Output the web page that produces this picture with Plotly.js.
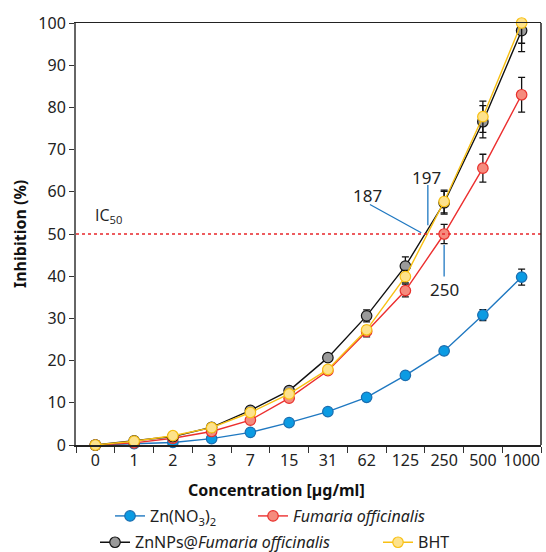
<!DOCTYPE html>
<html>
<head>
<meta charset="utf-8">
<script src="https://cdn.plot.ly/plotly-3.0.1.min.js"></script>
<style>html,body{margin:0;padding:0;background:#fff;}#chart{width:546px;height:552px;}</style>
</head>
<body>
<div id="chart"></div>
<script>
const categories = ["0","1","2","3","7","15","31","62","125","250","500","1000"];
const znNO3 = [0, 0.3, 0.6, 1.5, 3.0, 5.3, 7.9, 11.3, 16.5, 22.3, 30.8, 39.8];
const znNO3Err = [0, 0.1, 0.2, 0.2, 0.3, 0.4, 0.5, 0.5, 0.7, 0.9, 1.3, 1.9];
const fumaria = [0, 0.5, 1.6, 3.2, 5.9, 11.1, 17.6, 26.9, 36.6, 50.0, 65.6, 83.0];
const fumariaErr = [0, 0.1, 0.2, 0.3, 0.4, 0.6, 0.8, 1.3, 1.5, 2.3, 3.3, 4.1];
const znnps = [0, 1.0, 2.0, 4.2, 8.2, 12.9, 20.7, 30.6, 42.4, 57.4, 76.6, 98.2];
const znnpsErr = [0, 0.1, 0.2, 0.3, 0.4, 0.6, 0.8, 1.4, 2.2, 2.7, 3.8, 5.0];
const bht = [0, 0.9, 2.2, 4.1, 7.7, 12.1, 17.9, 27.3, 39.9, 57.7, 77.8, 100];
const bhtErr = [0, 0.1, 0.2, 0.3, 0.4, 0.5, 0.6, 1.0, 1.5, 2.7, 3.7, 4.8];
const seriesNames = ["Zn(NO<sub>3</sub>)<sub>2</sub>", "<i>Fumaria officinalis</i>", "ZnNPs@<i>Fumaria officinalis</i>", "BHT"];
const ic50Level = 50;
const ic50Labels = ["187", "197", "250"];

const FONT = "Noto Sans";
function errObj(arr){ return {type:'data', array:arr, visible:true, color:'#111', thickness:1.3, width:3.5}; }
function tr(y, err, name, lineColor, fill, edge, legend, lw){
  const t = {x:categories, y:y, name:name, type:'scatter', mode:'lines+markers', cliponaxis:false,
    line:{color:lineColor, width:1.4},
    marker:{size:10.5, color:fill, line:{color:edge, width:1.2}},
    error_y:errObj(err), legend:legend};
  if (lw) t.legendwidth = lw;
  return t;
}
const data = [
  tr(znNO3, znNO3Err, seriesNames[0], '#1f78c1', '#0b9be3', '#1a6eb0', 'legend', 98),
  tr(fumaria, fumariaErr, seriesNames[1], '#ec2f2f', '#f58b7d', '#e8312c', 'legend'),
  tr(znnps, znnpsErr, seriesNames[2], '#111111', '#9a9a9a', '#111111', 'legend2', 238),
  tr(bht, bhtErr, seriesNames[3], '#f8c014', '#fde28c', '#f8c014', 'legend2')
];
const lblColor = '#1f78c1';
const legFont = {family:FONT, size:16, color:'#222'};
const layout = {
  width:546, height:552,
  margin:{l:76, r:5, t:23, b:107},
  paper_bgcolor:'#fff', plot_bgcolor:'#fff',
  font:{family:FONT, size:16, color:'#222'},
  showlegend:true,
  xaxis:{type:'category', range:[-0.5, 11.5], automargin:false, showline:true, linecolor:'#222', linewidth:1.5, mirror:true,
    ticks:'outside', tickson:'boundaries', ticklen:6, tickcolor:'#333', showgrid:false, zeroline:false,
    tickangle:0, tickfont:{family:FONT, size:16, color:'#222'}},
  yaxis:{range:[0,100], automargin:false, showline:true, linecolor:'#666', linewidth:2, ticks:'outside', ticklen:5, tickcolor:'#333',
    dtick:10, showgrid:false, zeroline:false, tickfont:{family:FONT, size:16, color:'#222'}},
  legend:{orientation:'h', xref:'container', yref:'container', x:0.2015, xanchor:'left', y:0.0652, yanchor:'middle', font:legFont, bgcolor:'rgba(0,0,0,0)'},
  legend2:{orientation:'h', xref:'container', yref:'container', x:0.174, xanchor:'left', y:0.0175, yanchor:'middle', font:legFont, bgcolor:'rgba(0,0,0,0)'},
  shapes:[
    {type:'line', xref:'paper', yref:'y', x0:0, x1:1, y0:ic50Level, y1:ic50Level, line:{color:'#e8262a', width:1.5, dash:'dot'}},
    {type:'line', xref:'paper', yref:'paper', x0:1, x1:1, y0:0, y1:1, line:{color:'#222', width:1.5}},
    {type:'line', xref:'x', yref:'y', x0:7.085, x1:8.41, y0:57.0, y1:50.3, line:{color:lblColor, width:1.3}},
    {type:'line', xref:'x', yref:'y', x0:8.58, x1:8.58, y0:61.6, y1:52.1, line:{color:lblColor, width:1.3}},
    {type:'line', xref:'x', yref:'y', x0:9, x1:9, y0:47.4, y1:39.9, line:{color:lblColor, width:1.3}}
  ],
  annotations:[
    {xref:'paper', yref:'paper', x:0.432, y:-0.1066, xanchor:'center', yanchor:'middle', showarrow:false,
      text:'<b>Concentration [µg/ml]</b>', font:{family:FONT, size:16, color:'#111'}},
    {xref:'paper', yref:'paper', x:-0.1204, y:0.5, xanchor:'center', yanchor:'middle', showarrow:false, textangle:-90,
      text:'<b>Inhibition (%)</b>', font:{family:FONT, size:16, color:'#111'}},
    {xref:'x', yref:'y', x:-0.05, y:54.4, xanchor:'left', yanchor:'middle', showarrow:false, text:'IC<sub>50</sub>', font:{family:'Open Sans', size:16, color:'#222'}},
    {xref:'x', yref:'y', x:7.03, y:59.2, showarrow:false, text:ic50Labels[0], font:{family:FONT, size:17, color:'#222'}},
    {xref:'x', yref:'y', x:8.54, y:63.5, showarrow:false, text:ic50Labels[1], font:{family:FONT, size:17, color:'#222'}},
    {xref:'x', yref:'y', x:9.0, y:36.8, showarrow:false, text:ic50Labels[2], font:{family:FONT, size:17, color:'#222'}}
  ]
};
Plotly.newPlot('chart', data, layout, {staticPlot:true});
</script>
</body>
</html>
